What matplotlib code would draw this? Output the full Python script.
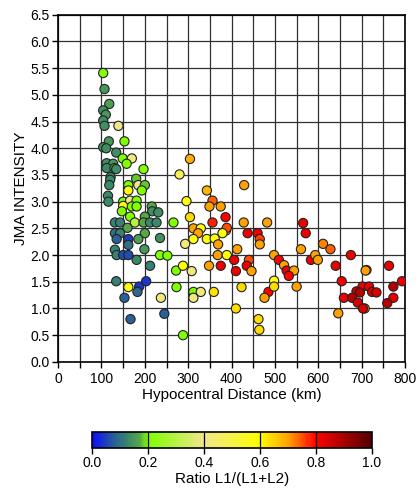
import numpy as np
import matplotlib
matplotlib.use("Agg")
import matplotlib.pyplot as plt
from matplotlib.colors import LinearSegmentedColormap
from matplotlib.ticker import MultipleLocator

plt.rcParams['font.family'] = ['Liberation Sans', 'DejaVu Sans']

# hypocentral distance (km), JMA intensity, ratio L1/(L1+L2)
distance = [
    104, 107, 118, 104, 110, 104, 107, 139, 117, 153,
    104, 111, 134, 149, 170, 158, 197, 112, 127, 112,
    130, 134, 304, 280, 121, 120, 118, 180, 162, 185,
    200, 162, 193, 115, 116, 296, 150, 166, 181, 343,
    150, 170, 181, 216, 147, 217, 231, 166, 200, 131,
    143, 177, 197, 212, 227, 266, 160, 131, 143, 200,
    235, 135, 162, 185, 131, 162, 199, 135, 150, 162,
    181, 235, 252, 212, 272, 288, 308, 134, 162, 187,
    203, 183, 153, 237, 273, 312, 329, 312, 359, 423,
    485, 476, 498, 498, 410, 245, 167, 462, 464, 288,
    429, 356, 349, 375, 386, 304, 356, 428, 482, 387,
    389, 312, 329, 323, 379, 437, 460, 465, 465, 293,
    312, 343, 361, 369, 413, 368, 389, 406, 440, 498,
    509, 348, 375, 410, 435, 446, 521, 527, 544, 532,
    550, 565, 571, 560, 583, 593, 599, 611, 628, 675,
    640, 763, 711, 709, 654, 702, 717, 793, 773, 688,
    696, 724, 734, 659, 678, 773, 691, 759, 707, 703,
    646,
]
intensity = [
    5.41, 5.11, 4.83, 4.71, 4.63, 4.52, 4.42, 4.42, 4.13, 4.13,
    4.02, 4.00, 3.92, 3.81, 3.81, 3.71, 3.61, 3.72, 3.71, 3.63,
    3.63, 3.61, 3.80, 3.51, 3.46, 3.41, 3.31, 3.43, 3.31, 3.31,
    3.31, 3.21, 3.21, 3.11, 3.00, 3.01, 3.00, 3.02, 3.02, 3.21,
    2.92, 2.91, 2.91, 2.91, 2.82, 2.82, 2.80, 2.72, 2.72, 2.61,
    2.61, 2.61, 2.61, 2.61, 2.61, 2.61, 2.51, 2.41, 2.41, 2.41,
    2.32, 2.30, 2.30, 2.30, 2.10, 2.19, 2.11, 2.00, 2.00, 2.00,
    1.91, 2.00, 1.99, 1.80, 1.71, 1.80, 1.70, 1.51, 1.40, 1.41,
    1.51, 1.31, 1.20, 1.20, 1.40, 1.31, 1.31, 1.20, 1.31, 1.40,
    1.31, 1.20, 1.52, 1.41, 1.00, 0.90, 0.80, 0.80, 0.60, 0.50,
    3.31, 3.02, 2.91, 2.91, 2.71, 2.71, 2.61, 2.61, 2.61, 2.46,
    2.51, 2.50, 2.50, 2.41, 2.41, 2.41, 2.41, 2.30, 2.20, 2.21,
    2.30, 2.30, 2.31, 2.20, 2.11, 2.00, 2.00, 1.91, 1.91, 2.00,
    1.91, 1.80, 1.80, 1.70, 1.80, 1.70, 1.81, 1.71, 1.71, 1.61,
    1.41, 2.60, 2.41, 2.11, 1.91, 2.00, 1.91, 2.21, 2.11, 2.00,
    1.80, 1.80, 1.72, 1.71, 1.51, 1.41, 1.41, 1.51, 1.41, 1.32,
    1.30, 1.31, 1.30, 1.20, 1.20, 1.20, 1.11, 1.10, 1.00, 1.00,
    0.91,
]
ratio = [
    0.21, 0.15, 0.16, 0.14, 0.15, 0.14, 0.14, 0.40, 0.15, 0.20,
    0.14, 0.14, 0.14, 0.20, 0.42, 0.20, 0.20, 0.14, 0.15, 0.13,
    0.16, 0.14, 0.69, 0.48, 0.14, 0.13, 0.13, 0.18, 0.20, 0.40,
    0.18, 0.58, 0.20, 0.13, 0.13, 0.58, 0.20, 0.40, 0.20, 0.68,
    0.58, 0.20, 0.20, 0.17, 0.20, 0.14, 0.14, 0.20, 0.17, 0.12,
    0.12, 0.30, 0.17, 0.13, 0.13, 0.20, 0.17, 0.10, 0.12, 0.17,
    0.14, 0.08, 0.05, 0.16, 0.12, 0.10, 0.15, 0.12, 0.06, 0.06,
    0.13, 0.20, 0.20, 0.12, 0.20, 0.60, 0.42, 0.12, 0.58, 0.04,
    0.04, 0.09, 0.08, 0.42, 0.20, 0.20, 0.42, 0.42, 0.63, 0.64,
    0.80, 0.70, 0.58, 0.64, 0.64, 0.08, 0.08, 0.64, 0.64, 0.20,
    0.70, 0.74, 0.70, 0.70, 0.80, 0.64, 0.78, 0.70, 0.70, 0.70,
    0.75, 0.70, 0.58, 0.70, 0.58, 0.82, 0.82, 0.76, 0.70, 0.42,
    0.58, 0.60, 0.60, 0.70, 0.70, 0.70, 0.60, 0.82, 0.75, 0.70,
    0.80, 0.70, 0.82, 0.82, 0.82, 0.70, 0.70, 0.82, 0.70, 0.80,
    0.70, 0.82, 0.82, 0.70, 0.82, 0.70, 0.70, 0.72, 0.74, 0.82,
    0.82, 0.82, 0.80, 0.70, 0.82, 0.82, 0.82, 0.82, 0.88, 0.86,
    0.88, 0.84, 0.84, 0.82, 0.88, 0.82, 0.84, 0.88, 0.70, 0.84,
    0.70,
]

cbar_ticks = [0.0, 0.2, 0.4, 0.6, 0.8, 1.0]

cmap = LinearSegmentedColormap.from_list("jma", [
    (0.00, "#0a0aff"),
    (0.07, "#2858a0"),
    (0.13, "#3a8a68"),
    (0.17, "#58a848"),
    (0.20, "#80ff00"),
    (0.40, "#f0e68c"),
    (0.60, "#ffff00"),
    (0.70, "#ffa500"),
    (0.80, "#ff0000"),
    (1.00, "#550000"),
])

fig = plt.figure(figsize=(4.18, 4.93), dpi=100)
ax = fig.add_axes([0.139, 0.266, 0.830, 0.704])

sc = ax.scatter(distance, intensity, c=ratio, cmap=cmap, vmin=0, vmax=1,
                s=44, edgecolors="#222222", linewidths=0.8, zorder=3)

ax.set_xlim(0, 800)
ax.set_ylim(0, 6.5)
ax.xaxis.set_major_locator(MultipleLocator(100))
ax.xaxis.set_minor_locator(MultipleLocator(50))
ax.yaxis.set_major_locator(MultipleLocator(0.5))
ax.yaxis.set_major_formatter(matplotlib.ticker.FormatStrFormatter("%.1f"))
ax.grid(which="both", color="#303030", linewidth=0.9, zorder=0)
ax.set_axisbelow(True)
ax.tick_params(which="major", direction="out", length=4, width=1, labelsize=10, pad=2)
ax.tick_params(axis="x", which="major", pad=3)
ax.tick_params(axis="x", which="minor", direction="out", length=4, width=1)
for sp in ax.spines.values():
    sp.set_linewidth(1.2)

ax.set_xlabel("Hypocentral Distance (km)", fontsize=11, labelpad=2)
ax.set_ylabel("JMA INTENSITY", fontsize=11, labelpad=2)

cax = fig.add_axes([0.220, 0.091, 0.670, 0.033])
cb = fig.colorbar(sc, cax=cax, orientation="horizontal", ticks=cbar_ticks)
cb.outline.set_linewidth(1.2)
for t in cbar_ticks[1:-1]:
    cax.axvline(t, color="black", linewidth=0.9)
cax.tick_params(direction="out", length=4, width=1, labelsize=10, pad=2)
cax.xaxis.set_major_formatter(matplotlib.ticker.FormatStrFormatter("%.1f"))
cb.set_label("Ratio L1/(L1+L2)", fontsize=11, labelpad=1)

fig.savefig("out.png", dpi=100)
